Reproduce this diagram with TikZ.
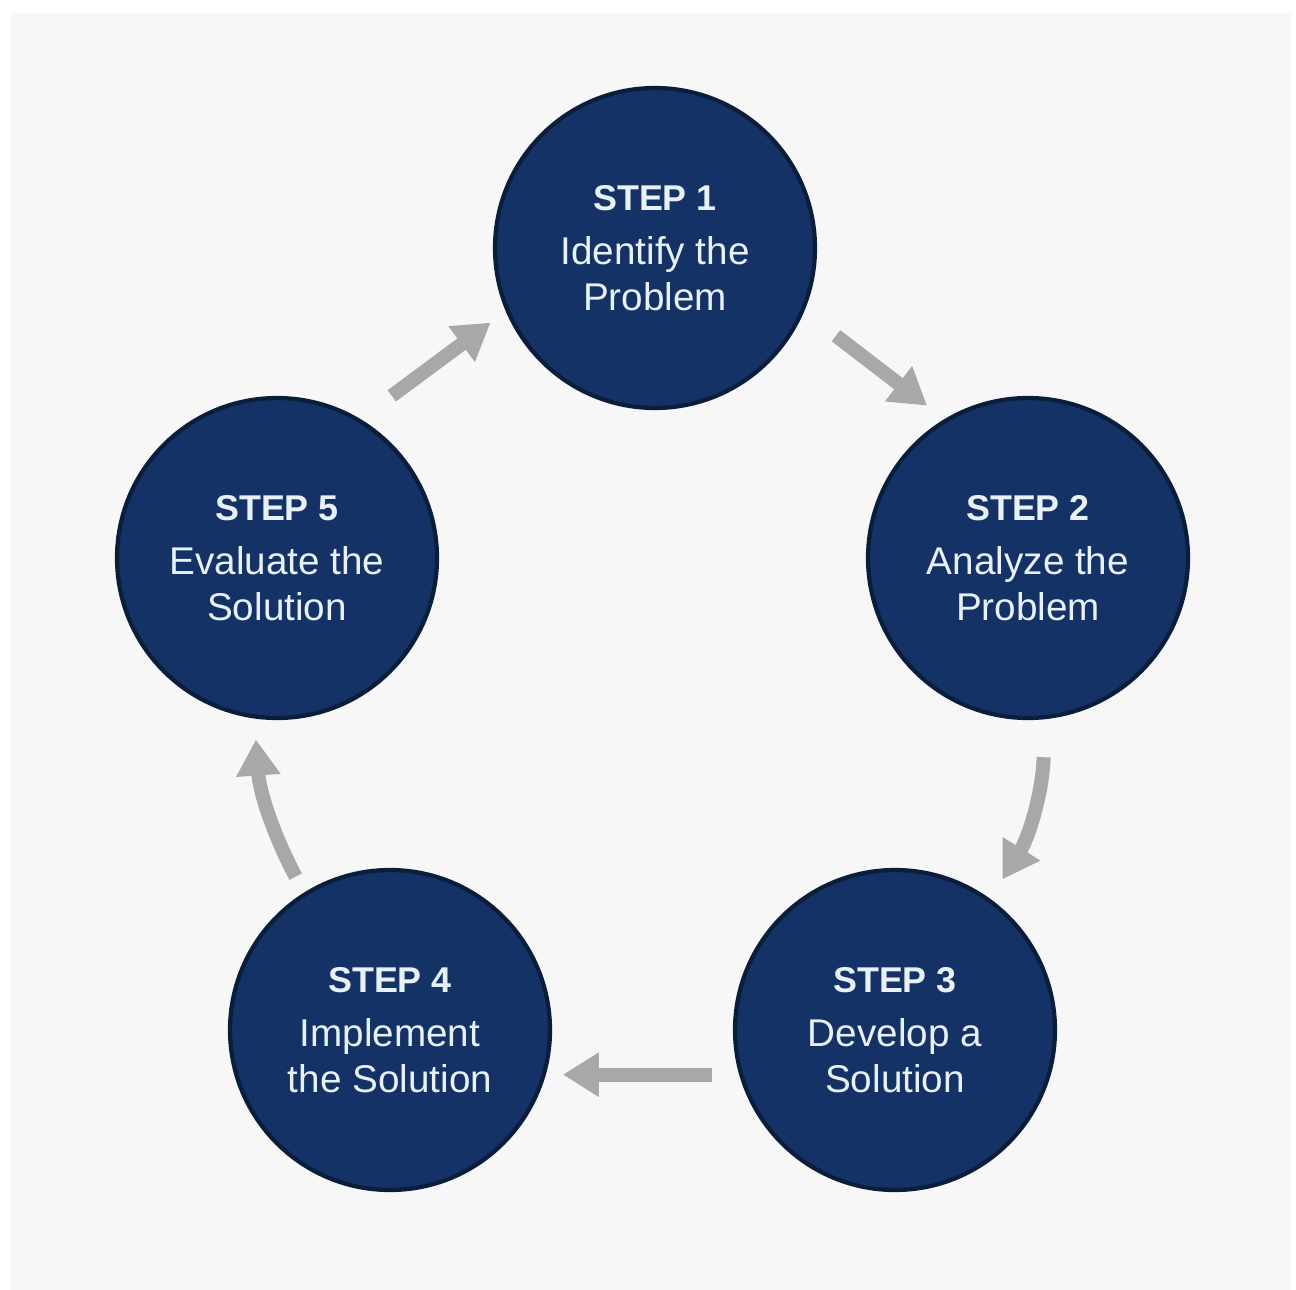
\documentclass[tikz,border=0pt]{standalone}
\usepackage{fontspec}
\setmainfont{Liberation Sans}
\usetikzlibrary{arrows.meta}
\definecolor{navy}{RGB}{20,50,102}
\definecolor{navyedge}{RGB}{10,30,60}
\definecolor{bggray}{RGB}{247,247,247}
\definecolor{arrowgray}{RGB}{168,168,168}
\definecolor{txt}{RGB}{232,240,248}
\tikzset{
  stepcircle/.style={circle, fill=navy, draw=navyedge, line width=1.2pt,
    minimum size=3.2cm, inner sep=0pt, text=txt, align=center,
    font=\fontsize{11}{12.9}\selectfont},
  flowarrow/.style={draw=arrowgray, line width=4pt,
    -{Triangle[width=0.42cm,length=0.36cm]}}
}
\newcommand{\steptext}[3]{\textbf{\fontsize{10.2}{12}\selectfont STEP #1}\\[2.5pt]#2\\#3}
\begin{document}
\begin{tikzpicture}
\useasboundingbox (0,0) rectangle (12.96,12.89);
\fill[white] (0,0) rectangle (12.96,12.89);
\fill[bggray] (0.11,-0.01) rectangle (12.91,12.76);

\node[stepcircle] (s1) at (6.55,10.41) {\steptext{1}{Identify the}{Problem}};
\node[stepcircle] (s2) at (10.28,7.31) {\steptext{2}{Analyze the}{Problem}};
\node[stepcircle] (s3) at (8.95,2.59) {\steptext{3}{Develop a}{Solution}};
\node[stepcircle] (s4) at (3.90,2.59) {\steptext{4}{Implement}{the Solution}};
\node[stepcircle] (s5) at (2.77,7.31) {\steptext{5}{Evaluate the}{Solution}};

\draw[flowarrow, shorten <=0.39cm, shorten >=0.19cm] (s5.59) -- (s1.203);
\draw[flowarrow, shorten <=0.40cm, shorten >=0.22cm] (s1.-23) -- (s2.121);
\draw[flowarrow, shorten <=0.38cm, shorten >=0.23cm] (s2.-84) to[bend left=15] (s3.54);
\draw[flowarrow, shorten <=0.27cm, shorten >=0.17cm] (s3.196) -- (s4.-16);
\draw[flowarrow, shorten <=0.18cm, shorten >=0.21cm] (s4.122) to[bend left=12] (s5.262);
\end{tikzpicture}
\end{document}
